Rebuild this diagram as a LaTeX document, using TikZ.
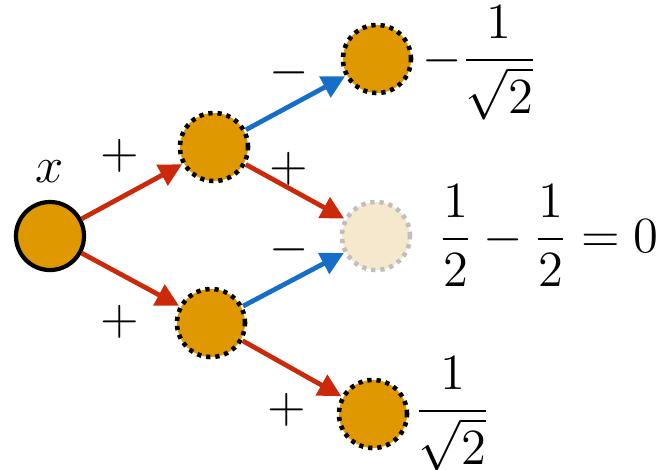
\documentclass[tikz,border=0pt]{standalone}
\usepackage{amsmath,amssymb}
\usepackage{xcolor}
\usetikzlibrary{arrows.meta, positioning}

\definecolor{amber}{RGB}{224,152,0}
\definecolor{fadedamber}{RGB}{246,232,204}
\definecolor{minusblue}{RGB}{22,110,200}
\definecolor{plusred}{RGB}{204,40,10}

\begin{document}
\begin{tikzpicture}[x=0.01cm, y=-0.01cm, font=\fontsize{13.8}{17}\selectfont]
\tikzstyle{input} = [circle, minimum size=0.68cm, inner sep=0pt, draw=black, line width=1.2pt, fill=amber]
\tikzstyle{path} = [circle, minimum size=0.68cm, inner sep=0pt, draw=black, line width=1.3pt,
    dash pattern=on 1.2pt off 1.4pt, fill=amber]
\tikzstyle{ghost} = [circle, minimum size=0.68cm, inner sep=0pt, draw=black!25, line width=1.3pt,
    dash pattern=on 1.2pt off 1.4pt, fill=fadedamber]
\tikzstyle{plus} = [draw=plusred, line width=1.35pt, -{Triangle[length=6.5pt, width=6.5pt]}]
\tikzstyle{minus} = [draw=minusblue, line width=1.35pt, -{Triangle[length=6.5pt, width=6.5pt]}]

\useasboundingbox (0,0) rectangle (657,469);

\node (x) [input] at (50,236) {};
\node (xlabel) at (50,172) {\fontsize{15}{18}\selectfont$x$};

\node (up)   [path] at (214,147) {};
\node (down) [path] at (211,323) {};

\node (top) [path]  at (377,59) {};
\node (mid) [ghost] at (376,236) {};
\node (bot) [path]  at (373,414) {};

\node (toplabel) [right=-1pt of top, yshift=-0.04cm] {$-\dfrac{1}{\sqrt{2}}$};
\node (midlabel) [right=4pt of mid] {$\dfrac{1}{2}-\dfrac{1}{2}=0$};
\node (botlabel) [right=-2pt of bot] {$\dfrac{1}{\sqrt{2}}$};

% signs of the branches
\node (s1) at (120,156) {$+$};
\node (s2) at (120,322) {$+$};
\node (s3) at (289,73) {$-$};
\node (s4) at (289,169) {$+$};
\node (s5) at (289,250) {$-$};
\node (s6) at (287,410) {$+$};

\draw [plus] (x) -- (up);
\draw [plus] (x) -- (down);
\draw [minus] (up) -- (top);
\draw [plus] (up) -- (mid);
\draw [minus] (down) -- (mid);
\draw [plus] (down) -- (bot);

\end{tikzpicture}
\end{document}
